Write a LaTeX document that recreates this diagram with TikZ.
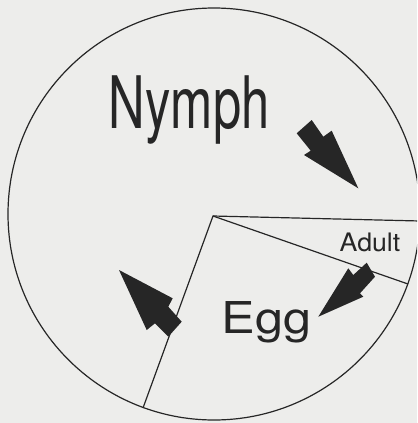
\documentclass[tikz,border=0pt]{standalone}
\usepackage{fontspec}
\newfontfamily\labelfont{TeX Gyre Heros}
\definecolor{paper}{RGB}{237,237,235}
\definecolor{ink}{RGB}{38,38,38}
\tikzset{
	stage/.style={text=ink, inner sep=0pt, anchor=base},
	sector/.style={draw=ink, line width=0.85pt},
	blockarrow/.style={fill=ink, draw=none}
}
\begin{document}
\begin{tikzpicture}[x=0.025cm, y=-0.025cm]
		\fill[paper] (0,0) rectangle (417,423);
		\useasboundingbox (0,0) rectangle (417,423);
		\clip (0,0) rectangle (417,423);
		
		% Life Cycle Circle
		\draw[sector] (214,214) circle[radius=206];
		
		% Sector boundaries
		\coordinate (hub) at (213,216);
		\coordinate (nymphEnd) at (420,221);
		\coordinate (adultEnd) at (408,284);
		\coordinate (eggEnd) at (143,408);
		\draw[sector] (nymphEnd) -- (hub) -- (eggEnd);
		\draw[sector] (hub) -- (adultEnd);
		
		% Stage labels
		\node[stage, xscale=0.7, font=\labelfont\fontsize{51.5pt}{60pt}\selectfont] (nymph) at (189,128.3) {Nymph};
		\node[stage, xscale=1.15, font=\labelfont\fontsize{31.2pt}{36pt}\selectfont] (egg) at (266.7,333.3) {Egg};
		\node[stage, xscale=1.05, font=\labelfont\fontsize{18.1pt}{22pt}\selectfont] (adult) at (370,251.7) {Adult};
		
		% Block arrows between stages
		\fill[blockarrow] (296.7,133.3) -- (311.7,120) -- (323.3,136.7) -- (331.7,130.7) -- (358.3,188.3) -- (304,155) -- (310.7,150.7) -- cycle;
		\fill[blockarrow] (318.3,316.7) -- (348.3,268.3) -- (353.3,275) -- (366.7,262.7) -- (375,276.7) -- (360,293.3) -- (363.3,296.7) -- cycle;
		\fill[blockarrow] (119,270) -- (172.7,298.3) -- (168.3,306.7) -- (181.7,321.7) -- (168.3,336.7) -- (155,323.3) -- (146.7,330) -- cycle;
\end{tikzpicture}
\end{document}
